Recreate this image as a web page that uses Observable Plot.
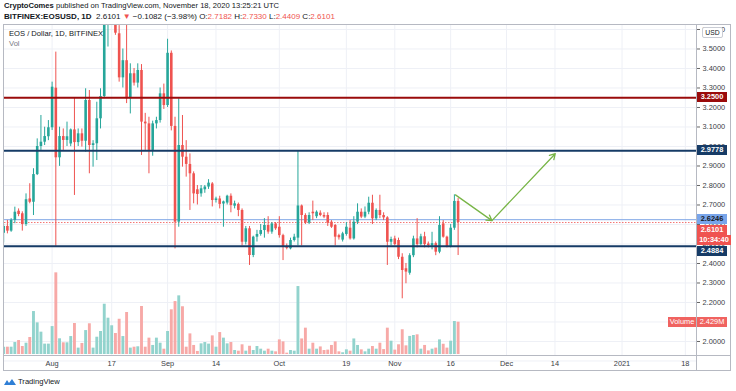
<!DOCTYPE html>
<html><head><meta charset="utf-8">
<script src="https://cdn.jsdelivr.net/npm/d3@7"></script>
<script src="https://cdn.jsdelivr.net/npm/@observablehq/plot@0.6"></script>
<style>
body{margin:0;background:#fff;font-family:"Liberation Sans",Arial,sans-serif;}
#wrap{position:relative;width:736px;height:391px;overflow:hidden;background:#fff;}
#wrap svg{position:absolute;left:0;top:0;}
.abs{position:absolute;white-space:nowrap;}
.hdr{font-size:7.6px;color:#131722;line-height:10px;}
.red{color:#ef5350;}
.lbl{position:absolute;height:10px;line-height:10px;font-size:7.4px;text-align:center;font-weight:bold;}
</style></head><body><div id="wrap"></div><script>
// ---- data (Bitfinex EOS/USD daily, Jul 19 – Nov 18, 2020) ----
const firstDay = "2020-07-19";
const opens = [2.555,2.59,2.566,2.621,2.668,2.655,2.600,2.731,2.714,2.856,3.000,3.022,3.05,
 3.096,3.299,2.942,3.051,3.031,3.013,3.085,3.02,3.065,3.027,3.236,3.005,3.014,3.142,3.256,3.68,3.74,3.85,3.578,3.352,3.44,3.245,3.373,3.325,3.39,3.125,3.116,2.98,3.116,3.133,3.27,
 3.21,3.478,3.103,2.612,3.005,2.945,2.908,2.860,2.778,2.757,2.778,2.792,2.808,2.723,2.731,2.705,2.71,2.745,2.694,2.703,2.672,2.509,2.578,2.441,2.535,2.549,2.569,2.595,2.561,2.603,
 2.586,2.543,2.487,2.475,2.518,2.53,2.695,2.646,2.607,2.663,2.64,2.658,2.646,2.646,2.612,2.595,2.543,2.52,2.549,2.581,2.526,2.612,2.663,2.638,2.663,2.709,2.629,2.672,2.646,2.634,2.509,
 2.526,2.518,2.432,2.373,2.35,2.44,2.526,2.497,2.537,2.50,2.49,2.502,2.458,2.603,2.535,2.487,2.581,2.7182];
const highs = [2.60,2.621,2.63,2.689,2.68,2.665,2.757,2.809,2.886,3.039,3.159,3.099,3.133,
 3.330,3.484,3.099,3.09,3.125,3.09,3.25,3.09,3.09,3.296,3.287,3.03,3.227,3.296,3.72,3.80,3.90,3.90,3.62,3.50,3.646,3.424,3.40,3.424,3.42,3.17,3.15,3.13,3.15,3.30,3.32,
 3.55,3.49,3.15,3.245,3.159,3.03,2.962,2.87,2.80,2.80,2.80,2.83,2.815,2.74,2.745,2.72,2.75,2.757,2.72,2.71,2.68,2.59,2.59,2.54,2.57,2.60,2.63,2.64,2.61,2.61,
 2.64,2.55,2.50,2.53,2.55,2.976,2.70,2.655,2.66,2.72,2.67,2.67,2.66,2.66,2.62,2.60,2.55,2.56,2.61,2.62,2.64,2.706,2.68,2.69,2.74,2.75,2.68,2.75,2.66,2.64,2.535,
 2.54,2.53,2.45,2.40,2.45,2.54,2.63,2.55,2.56,2.51,2.56,2.51,2.64,2.62,2.54,2.60,2.752,2.733];
const lows = [2.505,2.552,2.56,2.604,2.64,2.566,2.59,2.706,2.646,2.851,2.98,3.005,3.03,
 3.082,2.488,2.898,2.98,3.0,2.999,2.749,3.0,2.997,2.971,2.86,2.894,2.928,3.09,3.245,3.51,3.65,3.57,3.33,3.30,3.22,3.167,3.31,3.30,2.954,2.98,2.86,2.95,3.09,3.12,3.19,
 3.20,3.08,2.475,2.586,2.894,2.843,2.672,2.706,2.70,2.74,2.76,2.78,2.69,2.71,2.68,2.586,2.70,2.66,2.68,2.64,2.49,2.495,2.39,2.43,2.51,2.54,2.53,2.55,2.55,2.57,
 2.53,2.415,2.47,2.47,2.51,2.49,2.49,2.60,2.60,2.62,2.63,2.64,2.63,2.59,2.58,2.49,2.52,2.51,2.54,2.52,2.52,2.60,2.63,2.63,2.65,2.60,2.62,2.63,2.62,2.39,2.49,
 2.49,2.42,2.219,2.296,2.34,2.43,2.48,2.49,2.48,2.48,2.47,2.44,2.45,2.53,2.48,2.48,2.57,2.4409];
const closes = [2.59,2.566,2.621,2.663,2.651,2.600,2.727,2.714,2.856,3.000,3.022,3.051,3.096,
 3.304,2.942,3.051,3.031,3.05,3.085,3.02,3.065,3.027,3.236,3.005,3.014,3.142,3.256,3.68,3.74,3.85,3.581,3.352,3.44,3.245,3.373,3.325,3.39,3.125,3.116,2.98,3.116,3.133,3.27,3.21,
 3.478,3.103,2.612,3.005,2.945,2.908,2.860,2.757,2.754,2.783,2.792,2.812,2.723,2.731,2.703,2.716,2.745,2.697,2.706,2.672,2.509,2.578,2.441,2.535,2.549,2.569,2.595,2.561,2.603,2.578,
 2.543,2.484,2.478,2.518,2.535,2.695,2.646,2.607,2.646,2.655,2.663,2.646,2.638,2.607,2.586,2.535,2.532,2.552,2.586,2.526,2.612,2.663,2.638,2.663,2.709,2.629,2.672,2.646,2.634,2.509,2.523,
 2.497,2.432,2.364,2.356,2.44,2.526,2.497,2.537,2.497,2.492,2.502,2.458,2.595,2.535,2.487,2.581,2.7182,2.6101];
const volumes = [0.55,0.55,0.55,0.9,1.05,0.6,0.85,1.28,3.23,2.38,1.68,0.78,0.78,
 2.1,6.14,1.18,0.88,0.88,1.35,2.33,0.48,0.83,1.80,2.31,0.48,1.30,1.73,3.78,2.73,2.16,1.58,2.65,1.35,3.16,0.48,0.55,0.58,3.61,0.55,1.23,0.68,1.23,0.85,0.40,
 1.73,3.36,3.98,4.41,3.59,0.55,1.55,0.68,0.23,0.80,0.90,0.78,1.40,0.55,1.65,1.23,0.80,0.90,0.30,0.25,0.73,0.25,0.62,0.3,0.6,0.4,0.25,0.4,0.25,0.2,
 1.1,0.95,0.1,0.3,0.25,5.11,1.17,1.98,0.4,0.85,0.4,0.57,0.3,0.33,0.68,0.95,0.2,0.13,0.35,0.25,1.17,0.68,0.35,0.2,0.4,0.6,0.4,0.85,0.37,1.98,1.0,
 0.33,0.73,1.86,0.65,1.36,1.43,1.48,0.4,0.68,0.27,0.4,0.48,1.1,0.77,0.48,1.0,2.48,2.429];

const xTickDates = ["2020-08-01","2020-08-17","2020-09-01","2020-09-14","2020-10-01","2020-10-19","2020-11-01","2020-11-16","2020-12-01","2020-12-14","2021-01-01","2021-01-18"];
const xTickLabels = ["Aug","17","Sep","14","Oct","19","Nov","16","Dec","14","2021","18"];
const priceTicks = d3.range(19, 37).map(i => i / 10);

const levelValues = [3.25, 2.9778, 2.4884];
const levelColors = ["#9a0b0b", "#163b66", "#163b66"];
const levelText = ["3.2500", "2.9778", "2.4884"];
const refValue = 2.6246, lastValue = 2.6101, lastVolume = 2.429;

const arrowDates = ["2020-11-17T07:00Z", "2020-11-27T02:00Z", "2020-12-14T02:00Z"];
const arrowPrices = [2.752, 2.62, 2.963];

// ---- build tables ----
const UP = "#26a69a", DOWN = "#ef5350", UPV = "#92d3cd", DOWNV = "#f7a9a7";
const start = new Date(firstDay + "T00:00Z");
const candles = opens.map((o, i) => ({
  date: d3.utcDay.offset(start, i), open: o, high: highs[i], low: lows[i], close: closes[i],
  volume: volumes[i], up: closes[i] >= o
}));
const tickDates = xTickDates.map(s => new Date(s + "T00:00Z"));
const tickLabel = new Map(tickDates.map((d, i) => [+d, xTickLabels[i]]));
const levels = levelValues.map((v, i) => ({value: v, color: levelColors[i]}));
const arrows = [0, 1].map(i => ({x1: new Date(arrowDates[i]), y1: arrowPrices[i], x2: new Date(arrowDates[i + 1]), y2: arrowPrices[i + 1]}));

const W = 736, H = 391;
const xDomain = [new Date("2020-07-19T05:17Z"), new Date("2021-01-21T00:00Z")];
const base = {width: W, height: H, marginLeft: 4, marginRight: 40,
  style: {background: "transparent", fontFamily: "Liberation Sans, Arial, sans-serif", overflow: "visible"}};
const priceDomain = [1.9282, 3.6256];

const gridLayer = Plot.plot({...base, marginTop: 24, marginBottom: 36,
  x: {type: "utc", domain: xDomain}, y: {domain: priceDomain},
  marks: [
    Plot.gridX(tickDates, {stroke: "#eef0f6", strokeOpacity: 1}),
    Plot.gridY(priceTicks, {stroke: "#eef0f6", strokeOpacity: 1}),
    Plot.axisY(priceTicks.filter(v => v >= 2), {anchor: "right", tickFormat: d3.format(".4f"), tickSize: 3, tickPadding: 3, fontSize: 7.4, fill: "#3a3d45", stroke: "#666", label: null}),
    Plot.axisX(tickDates, {anchor: "bottom", tickFormat: d => tickLabel.get(+d), tickSize: 0, tickPadding: 5, fontSize: 7.4, fill: "#3a3d45", label: null})
  ]});

const volLayer = Plot.plot({...base, marginTop: 221, marginBottom: 37,
  x: {type: "utc", domain: xDomain, axis: null}, y: {domain: [0, 10], axis: null},
  color: {type: "identity"},
  marks: [
    Plot.ruleX(candles, {x: "date", y1: 0, y2: "volume", stroke: d => d.up ? UPV : DOWNV, strokeWidth: 2.9, clip: true})
  ]});

const priceLayer = Plot.plot({...base, marginTop: 24, marginBottom: 36,
  x: {type: "utc", domain: xDomain, axis: null}, y: {domain: priceDomain, axis: null},
  color: {type: "identity"},
  marks: [
    Plot.ruleY([refValue], {stroke: "#7ea6e6", strokeWidth: 1}),
    Plot.ruleY([lastValue], {stroke: "#ef5350", strokeWidth: 0.8, strokeDasharray: "1.5,1.5"}),
    Plot.ruleX(candles, {x: "date", y1: "low", y2: "high", stroke: d => d.up ? UP : DOWN, strokeWidth: 1, clip: true}),
    Plot.ruleX(candles, {x: "date", y1: "open", y2: "close", stroke: d => d.up ? UP : DOWN, strokeWidth: 2.6, clip: true}),
    Plot.ruleY(levels, {y: "value", stroke: "color", strokeWidth: 2}),
    Plot.arrow(arrows, {x1: "x1", y1: "y1", x2: "x2", y2: "y2", stroke: "#78b547", strokeWidth: 1.3, headLength: 7})
  ]});

const wrap = document.getElementById("wrap");
wrap.append(gridLayer, volLayer, priceLayer);

function el(html, css, cls) {
  const d = document.createElement("div");
  d.className = cls || "abs";
  d.innerHTML = html;
  Object.assign(d.style, css);
  wrap.append(d);
  return d;
}
// frame
el("", {left: "3px", top: "24px", width: "728px", height: "347px", border: "1px solid #b6b9c2", boxSizing: "border-box"});
el("", {left: "696px", top: "24px", width: "1px", height: "347px", background: "#b6b9c2"});
el("", {left: "3px", top: "355px", width: "728px", height: "1px", background: "#b6b9c2"});

// header
el('<b>CryptoComes</b> published on TradingView.com, November 18, 2020 13:25:21 UTC', {left: "4px", top: "1px"}, "abs hdr");
el('<b>BITFINEX:EOSUSD, 1D</b>&nbsp; 2.6101 <span class="red">▼</span> −0.1082 (−3.98%) O:<span class="red">2.7182</span> H:<span class="red">2.7330</span> L:<span class="red">2.4409</span> C:<span class="red">2.6101</span>', {left: "4px", top: "12px", fontSize: "8px"}, "abs hdr");
el("EOS / Dollar, 1D, BITFINEX", {left: "9px", top: "29px", fontSize: "7.6px", color: "#131722"});
el("Vol", {left: "9px", top: "39px", fontSize: "7.6px", color: "#787b86"});
el("USD", {left: "702px", top: "27px", width: "19px", height: "9px", lineHeight: "9px", fontSize: "6.8px", textAlign: "center", border: "1px solid #c9ccd4", borderRadius: "2px", background: "#fff", color: "#131722"});

// price labels on the axis, placed with the price scale
const ys = priceLayer.scale("y");
const tags = [
  {v: levelValues[0], t: levelText[0], bg: levelColors[0], c: "#fff"},
  {v: levelValues[1], t: levelText[1], bg: levelColors[1], c: "#fff"},
  {v: refValue, t: "2.6246", bg: "#79a5ea", c: "#131722"},
  {v: lastValue, t: "2.6101", bg: "#ef5350", c: "#fff"},
  {v: null, t: "10:34:40", bg: "#ef5350", c: "#fff", w: 34},
  {v: levelValues[2], t: levelText[2], bg: levelColors[2], c: "#fff"}
];
let prev = -Infinity;
tags.forEach(g => {
  let y = g.v == null ? prev + 10.5 : ys.apply(g.v);
  if (y < prev + 10.5) y = prev + 10.5;
  prev = y;
  el(g.t, {left: "697px", top: (y - 5) + "px", width: (g.w || 30) + "px", background: g.bg, color: g.c}, "lbl");
});
const yv = volLayer.scale("y").apply(lastVolume);
el("Volume", {left: "668px", top: (yv - 5) + "px", width: "28px", background: "#f06360", color: "#fff", fontWeight: "normal"}, "lbl");
el("2.429M", {left: "697px", top: (yv - 5) + "px", width: "30px", background: "#f06360", color: "#fff", fontWeight: "normal"}, "lbl");

// logo
el('<svg width="12" height="8" viewBox="0 0 12 8"><path d="M0 7 L3 2 L5 5 L8 1 L12 7 Z" fill="#2f7fd6"/></svg>', {left: "4px", top: "378px"});
el("TradingView", {left: "18px", top: "377px", fontSize: "7.6px", color: "#131722"});
</script></body></html>
